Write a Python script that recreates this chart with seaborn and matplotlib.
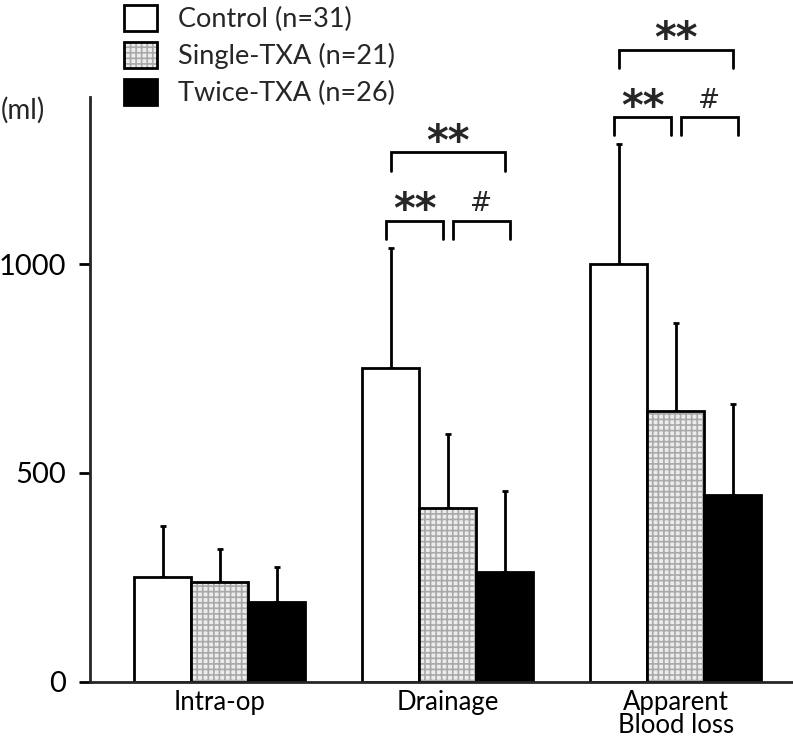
import matplotlib.pyplot as plt
import seaborn as sns
import pandas as pd
from matplotlib.colors import to_rgba

# blood loss per phase, mean and SD (ml)
categories = ['Intra-op', 'Drainage', 'Apparent\nBlood loss']
groups = ['Control (n=31)', 'Single-TXA (n=21)', 'Twice-TXA (n=26)']

control_mean = [250, 750, 1000]
control_sd = [123, 289, 287]
single_mean = [238, 415, 649]
single_sd = [79, 179, 210]
twice_mean = [190, 263, 448]
twice_sd = [85, 194, 216]

# significance: (category idx, group a, group b, label, bracket height in ml)
sig_marks = [
    (1, 0, 1, '**', 1104),
    (1, 1, 2, '#', 1104),
    (1, 0, 2, '**', 1268),
    (2, 0, 1, '**', 1352),
    (2, 1, 2, '#', 1352),
    (2, 0, 2, '**', 1513),
]

means = [control_mean, single_mean, twice_mean]
sds = [control_sd, single_sd, twice_sd]
df = pd.DataFrame({
    'category': categories * 3,
    'group': [g for g in groups for _ in categories],
    'value': control_mean + single_mean + twice_mean,
})

sns.set_style('ticks')
plt.rcParams['font.family'] = ['Lato', 'DejaVu Sans']
plt.rcParams['hatch.linewidth'] = 1.2

fig = plt.figure(figsize=(7.93, 7.39), dpi=100)
ax = fig.add_axes([90 / 793, 1 - 681.7 / 739, 702 / 793, 584.7 / 739])

sns.barplot(data=df, x='category', y='value', hue='group', order=categories,
            hue_order=groups, palette=['white', '#ececec', 'black'],
            saturation=1, edgecolor='black', linewidth=2, width=0.75,
            errorbar=None, legend=False, ax=ax)
bar_containers = list(ax.containers)
for bar in bar_containers[1]:
    bar.set_hatch('+++')
    bar._hatch_color = to_rgba('#a9a9a9')

# upper-only error bars
for k, bars in enumerate(bar_containers):
    xs = [b.get_x() + b.get_width() / 2 for b in bars]
    ax.errorbar(xs, means[k], yerr=[[0] * len(xs), sds[k]], fmt='none',
                ecolor='black', elinewidth=2, capsize=2.5, capthick=2,
                zorder=0.5)

# significance brackets
shift = {(0, 1): -0.02, (1, 2): 0.02, (0, 2): 0.0}
leg = 44
for cat, a, b, label, h in sig_marks:
    ba = bar_containers[a][cat]
    bb = bar_containers[b][cat]
    xa = ba.get_x() + ba.get_width() / 2 + shift[(a, b)]
    xb = bb.get_x() + bb.get_width() / 2 + shift[(a, b)]
    ax.plot([xa, xa, xb, xb], [h - leg, h, h, h - leg], color='black',
            lw=2, clip_on=False, solid_joinstyle='miter')
    if label == '**':
        ax.text((xa + xb) / 2, h - 6, label, ha='center', va='baseline',
                fontsize=30, fontweight='bold', family='DejaVu Sans')
    else:
        ax.text((xa + xb) / 2, h + 22, label, ha='center', va='baseline',
                fontsize=19, family='DejaVu Sans')

ax.set_ylim(0, 1400)
ax.set_xlim(-0.570, 2.509)
ax.set_yticks([0, 500, 1000])
ax.set_xlabel('')
ax.set_ylabel('')
sns.despine(ax=ax)
for s in ['left', 'bottom']:
    ax.spines[s].set_linewidth(2)
ax.tick_params(axis='y', length=8, width=2, labelsize=21, pad=9, colors='black')
ax.tick_params(axis='x', length=0, labelsize=18.5, pad=6, colors='black')
for t in ax.get_xticklabels():
    t.set_linespacing(0.9)

fig.text(1 / 793, 1 - 110 / 739, '(ml)', fontsize=20, va='center', ha='left')

ax.legend(handles=bar_containers, labels=groups, loc='upper left',
          bbox_to_anchor=(124 / 793, 1 - 5 / 739), bbox_transform=fig.transFigure,
          frameon=False, fontsize=19.5, handlelength=1.2, handleheight=1.1,
          labelspacing=0.36, handletextpad=0.8, borderpad=0, borderaxespad=0)

fig.savefig('out.png', dpi=100)
